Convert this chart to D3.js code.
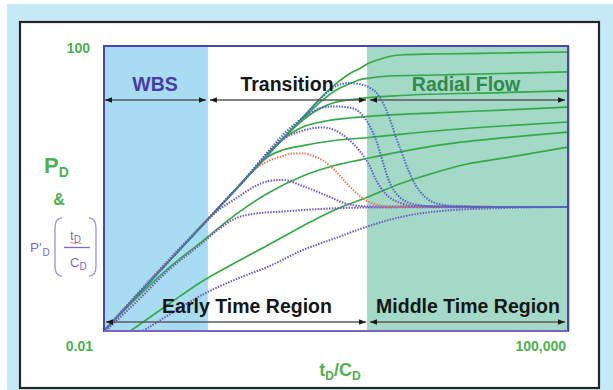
<!DOCTYPE html>
<html><head><meta charset="utf-8">
<script src="https://cdn.jsdelivr.net/npm/d3@7"></script>
<style>
body{margin:0;background:#fff}
svg{display:block;font-family:"Liberation Sans",Arial,sans-serif}
</style>
</head><body><svg id="chart" width="613" height="390"></svg>
<script>
// Flow regimes along t_D/C_D
const regionBounds = [0.01, 0.37, 93, 100000];
const regionNames = ["WBS", "Transition", "Radial Flow"];
const periodNames = ["Early Time Region", "Middle Time Region"];
const xTickLabels = ["100,000"];
const yTickLabels = ["100", "0.01"];

// Pressure type curves P_D vs t_D/C_D (largest storage-skin group first)
const pd1 = [[0.01,0.01],[1,1],[10,10],[20,20],[30,28.4],[50,40.5],[70,47.5],[100,57.7],[150,65.8],[200,71.2],[300,74.8],[1000,77.2],[10000,79.7],[100000,82.4]];
const pd2 = [[0.01,0.01],[1,1],[10,9.6],[20,17.5],[30,23.4],[50,29.3],[70,33.3],[100,35.5],[200,37.9],[1000,39.2],[10000,41.1],[100000,43.2]];
const pd3 = [[0.01,0.01],[1,1],[5,5],[10,9.1],[20,13.9],[30,16.1],[50,17.5],[100,18.9],[300,20.2],[10000,22.2],[100000,23.4]];
const pd4 = [[0.01,0.01],[1,1],[3,3],[5,4.9],[10,7.3],[20,8.7],[50,9.76],[100,10.3],[1000,11.5],[10000,12.6],[100000,13.9]];
const pd5 = [[0.01,0.01],[1,1],[2,2],[3,2.8],[5,3.47],[10,4.0],[30,4.72],[100,5.2],[1000,6.41],[10000,7.54],[100000,8.58]];
const pd6 = [[0.01,0.01],[0.1,0.08],[0.3,0.18],[1,0.44],[3,0.865],[10,1.5],[30,2.1],[100,2.68],[1000,4.0],[10000,5.12],[100000,6.2]];
const pd7 = [[0.025,0.01],[0.1,0.0247],[0.3,0.0496],[1,0.093],[3,0.161],[10,0.298],[30,0.499],[100,0.773],[300,1.175],[1000,1.68],[3000,2.21],[10000,2.64],[100000,3.82]];

// Derivative curves P'_D (t_D/C_D)
const dp1 = [[0.01,0.01],[1,1],[10,10],[20,19.5],[30,26.6],[50,30.3],[70,29.3],[100,26.2],[130,21.9],[150,18.0],[200,10.1],[250,5.45],[300,3.47],[400,1.71],[500,1.12],[700,0.76],[1000,0.625],[2000,0.568],[10000,0.55],[100000,0.55]];
const dp2 = [[0.01,0.01],[1,1],[10,9.8],[20,13.7],[30,14.2],[50,13.7],[70,12.0],[100,7.8],[130,4.5],[150,2.95],[200,1.27],[300,0.735],[500,0.596],[1000,0.56],[10000,0.55],[100000,0.55]];
const dp3 = [[0.01,0.01],[1,1],[5,4.9],[10,6.5],[20,7.2],[30,6.6],[50,4.8],[70,3.47],[100,2.14],[130,1.27],[150,1.02],[200,0.76],[300,0.625],[500,0.568],[10000,0.55],[100000,0.55]];
const dp4 = [[0.01,0.01],[1,1],[2,1.95],[3,2.43],[5,2.86],[7,3.1],[10,3.1],[15,2.81],[20,2.47],[30,1.82],[50,1.08],[70,0.81],[100,0.647],[200,0.559],[100000,0.55]];
const dp5 = [[0.01,0.01],[0.3,0.3],[0.5,0.475],[1,0.736],[2,1.10],[3,1.27],[5,1.32],[10,1.08],[20,0.84],[50,0.597],[100,0.56],[100000,0.55]];
const dp6 = [[0.01,0.0095],[0.03,0.025],[0.1,0.075],[0.3,0.17],[0.5,0.255],[1,0.386],[2,0.446],[5,0.475],[10,0.499],[100,0.541],[100000,0.55]];
const dp7 = [[0.0387,0.01],[0.1,0.0173],[0.3,0.032],[1,0.0537],[3,0.08],[10,0.137],[30,0.199],[100,0.298],[300,0.398],[1000,0.475],[10000,0.532],[100000,0.55]];

const pressureCurves = [pd1, pd2, pd3, pd4, pd5, pd6, pd7];
const derivativeCurves = [
  {pts: dp7, color: "#7357c8"},
  {pts: dp6, color: "#7357c8"},
  {pts: dp5, color: "#7357c8"},
  {pts: dp4, color: "#ee7a62"},
  {pts: dp3, color: "#7357c8"},
  {pts: dp2, color: "#5660c4"},
  {pts: dp1, color: "#4f6ac2"}
];

const svg = d3.select("#chart");
const W = 613, H = 390;
const plot = {left: 104, right: 568, top: 46, bottom: 331};

const x = d3.scaleLog().domain([0.01, 100000]).range([plot.left, plot.right]);
const y = d3.scaleLog().domain([0.01, 100]).range([plot.bottom, plot.top]);

// page frame
svg.append("rect").attr("width", W).attr("height", H).attr("fill", "#fff");
svg.append("rect").attr("x", 7).attr("y", 4).attr("width", W - 7).attr("height", H - 4).attr("fill", "#c6e9f8");
svg.append("rect").attr("x", 20).attr("y", 22).attr("width", 579).attr("height", 366)
  .attr("fill", "#fff").attr("stroke", "#262626").attr("stroke-width", 2.2);

// regime bands
const bandColors = ["#a8dcf3", "#ffffff", "#a3d9c6"];
svg.append("g").selectAll("rect").data(d3.range(3)).join("rect")
  .attr("x", i => x(regionBounds[i]))
  .attr("y", plot.top)
  .attr("width", i => x(regionBounds[i + 1]) - x(regionBounds[i]) + (i === 2 ? 2 : 0))
  .attr("height", plot.bottom - plot.top)
  .attr("fill", i => bandColors[i]);

// curves
svg.append("defs").append("clipPath").attr("id", "clip")
  .append("rect").attr("x", plot.left).attr("y", plot.top)
  .attr("width", plot.right - plot.left).attr("height", plot.bottom - plot.top);

const line = d3.line().x(d => x(d[0])).y(d => y(d[1])).curve(d3.curveMonotoneX);
const curves = svg.append("g").attr("clip-path", "url(#clip)");

curves.selectAll("path.pd").data(pressureCurves).join("path")
  .attr("class", "pd")
  .attr("d", line)
  .attr("fill", "none")
  .attr("stroke", "#36a847")
  .attr("stroke-width", 1.7);

curves.selectAll("path.dp").data(derivativeCurves).join("path")
  .attr("class", "dp")
  .attr("d", d => line(d.pts))
  .attr("fill", "none")
  .attr("stroke", d => d.color)
  .attr("stroke-width", 2)
  .attr("stroke-dasharray", "1.5 1.3");

// plot frame
svg.append("rect").attr("x", plot.left).attr("y", plot.top)
  .attr("width", plot.right - plot.left).attr("height", plot.bottom - plot.top)
  .attr("fill", "none").attr("stroke", "#4a46aa").attr("stroke-width", 2);
svg.append("line").attr("x1", plot.left).attr("x2", plot.right)
  .attr("y1", plot.bottom).attr("y2", plot.bottom)
  .attr("stroke", "#7a62c6").attr("stroke-width", 2.2);

// arrows
const defs = svg.select("defs");
["start", "end"].forEach(k => {
  defs.append("marker").attr("id", "ar-" + k)
    .attr("viewBox", "0 0 10 10").attr("refX", k === "end" ? 10 : 0).attr("refY", 5)
    .attr("markerWidth", 7).attr("markerHeight", 7).attr("markerUnits", "userSpaceOnUse")
    .attr("orient", "auto")
    .append("path")
    .attr("d", k === "end" ? "M0,1L10,5L0,9Z" : "M10,1L0,5L10,9Z")
    .attr("fill", "#1a1a1a");
});
function arrow(x1, x2, yy) {
  svg.append("line").attr("x1", x1).attr("x2", x2).attr("y1", yy).attr("y2", yy)
    .attr("stroke", "#5a5a5a").attr("stroke-width", 1.3)
    .attr("marker-start", "url(#ar-start)").attr("marker-end", "url(#ar-end)");
}
const topArrowY = plot.top + 54, lowArrowY = plot.bottom - 9;
arrow(x(regionBounds[0]) + 1, x(regionBounds[1]) - 2, topArrowY);
arrow(x(regionBounds[1]) + 2, x(regionBounds[2]) - 1, topArrowY);
arrow(x(regionBounds[2]) + 3, x(regionBounds[3]) - 3, topArrowY);
arrow(x(regionBounds[0]) + 2, x(regionBounds[2]) - 1, lowArrowY);
arrow(x(regionBounds[2]) + 3, x(regionBounds[3]) - 3, lowArrowY);

// regime labels
const nameColors = ["#4a3ba2", "#161616", "#2e8b4a"];
const nameX = [155, 287, 466];
regionNames.forEach((n, i) => {
  svg.append("text").attr("x", nameX[i]).attr("y", plot.top + 45)
    .attr("text-anchor", "middle").attr("font-weight", "bold").attr("font-size", 19.5)
    .attr("fill", nameColors[i]).text(n);
});
const periodX = [247, 468];
periodNames.forEach((n, i) => {
  svg.append("text").attr("x", periodX[i]).attr("y", plot.bottom - 18)
    .attr("text-anchor", "middle").attr("font-weight", "bold").attr("font-size", 19.5)
    .attr("fill", "#161616").text(n);
});

// tick labels
const green = "#4fb052";
svg.append("text").attr("x", plot.left - 14).attr("y", y(100) + 7)
  .attr("text-anchor", "end").attr("font-weight", "bold").attr("font-size", 14)
  .attr("fill", green).text(yTickLabels[0]);
svg.append("text").attr("x", plot.left - 11).attr("y", y(0.01) + 20)
  .attr("text-anchor", "end").attr("font-weight", "bold").attr("font-size", 14)
  .attr("fill", green).text(yTickLabels[1]);
svg.append("text").attr("x", x(100000) - 2).attr("y", y(0.01) + 20)
  .attr("text-anchor", "end").attr("font-weight", "bold").attr("font-size", 14)
  .attr("fill", green).text(xTickLabels[0]);

// x axis title t_D/C_D
const xt = svg.append("text").attr("x", 340).attr("y", 376).attr("text-anchor", "middle")
  .attr("font-weight", "bold").attr("font-size", 18).attr("fill", green);
xt.append("tspan").text("t");
xt.append("tspan").attr("font-size", 12).attr("dy", 4).text("D");
xt.append("tspan").attr("dy", -4).text("/C");
xt.append("tspan").attr("font-size", 12).attr("dy", 4).text("D");

// y axis title P_D & P'_D (t_D/C_D)
const yt = svg.append("text").attr("x", 44).attr("y", 173)
  .attr("font-weight", "bold").attr("font-size", 22).attr("fill", green);
yt.append("tspan").text("P");
yt.append("tspan").attr("font-size", 14).attr("dy", 4).text("D");
svg.append("text").attr("x", 59).attr("y", 205).attr("text-anchor", "middle")
  .attr("font-weight", "bold").attr("font-size", 16).attr("fill", green).text("&");

const purple = "#7d6cc2";
const pd = svg.append("text").attr("x", 30).attr("y", 252)
  .attr("font-size", 13.5).attr("fill", purple);
pd.append("tspan").text("P\u2032");
pd.append("tspan").attr("font-size", 10).attr("dy", 4).attr("dx", 1).text("D");

const brk = d3.path();
brk.moveTo(62, 218); brk.quadraticCurveTo(55, 218, 55, 228); brk.lineTo(55, 266); brk.quadraticCurveTo(55, 276, 62, 276);
brk.moveTo(89, 218); brk.quadraticCurveTo(96, 218, 96, 228); brk.lineTo(96, 266); brk.quadraticCurveTo(96, 276, 89, 276);
svg.append("path").attr("d", brk.toString()).attr("fill", "none").attr("stroke", "#a49ad6").attr("stroke-width", 1.4);
svg.append("line").attr("x1", 64).attr("x2", 90).attr("y1", 247.5).attr("y2", 247.5)
  .attr("stroke", purple).attr("stroke-width", 1.3);
const tn = svg.append("text").attr("x", 70).attr("y", 240).attr("font-size", 13).attr("fill", purple);
tn.append("tspan").text("t");
tn.append("tspan").attr("font-size", 10).attr("dy", 3).text("D");
const cd = svg.append("text").attr("x", 70).attr("y", 267).attr("font-size", 13).attr("fill", purple);
cd.append("tspan").text("C");
cd.append("tspan").attr("font-size", 10).attr("dy", 3).text("D");
svg.append("path").attr("d", "M70,243 q1.5,-1.5 3,0 t3,0 t3,0 t3,0")
  .attr("fill", "none").attr("stroke", "#e0604a").attr("stroke-width", 0.8);
</script></body></html>
